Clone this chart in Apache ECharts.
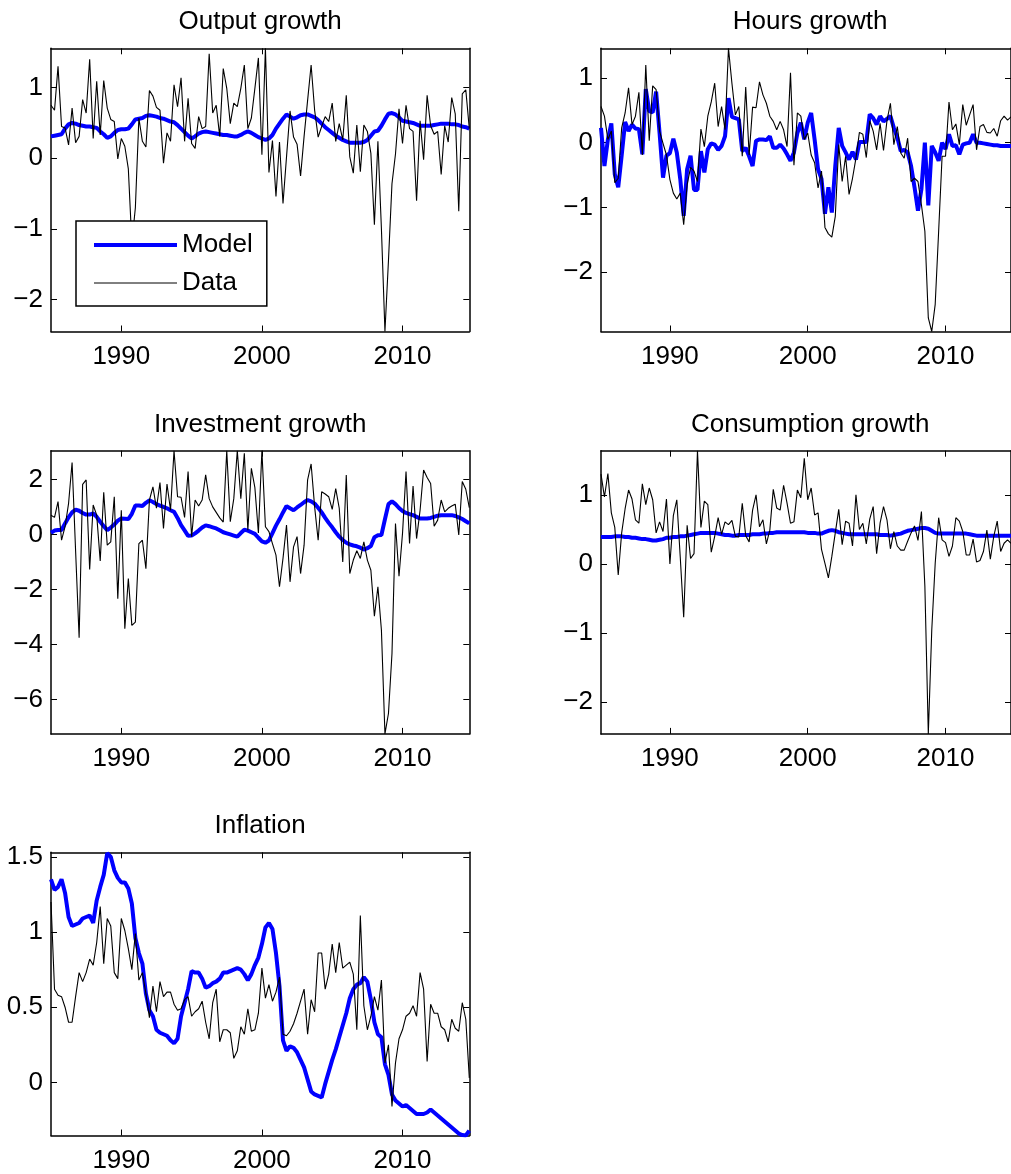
<!DOCTYPE html>
<html><head><meta charset="utf-8">
<script src="https://cdn.jsdelivr.net/npm/echarts@6/dist/echarts.min.js"></script>
<style>html,body{margin:0;padding:0;background:#fff}#c{width:1011px;height:1174px}</style>
</head><body><div id="c"></div>
<script>
const startYear = 1985;
const nQuarters = 120;
const xTicks = [1990, 2000, 2010];
const titles = ['Output growth', 'Hours growth', 'Investment growth', 'Consumption growth', 'Inflation'];
const seriesNames = ['Model', 'Data'];

const outputModel = [0.31,0.32,0.33,0.34,0.42,0.48,0.50,0.49,0.47,0.46,
0.45,0.45,0.44,0.43,0.38,0.34,0.29,0.31,0.36,0.40,
0.41,0.41,0.42,0.48,0.55,0.56,0.57,0.60,0.61,0.60,
0.59,0.57,0.56,0.54,0.52,0.51,0.47,0.42,0.37,0.32,
0.28,0.31,0.35,0.37,0.38,0.37,0.36,0.35,0.34,0.33,
0.33,0.32,0.31,0.31,0.33,0.36,0.38,0.36,0.33,0.30,
0.28,0.26,0.28,0.33,0.42,0.49,0.56,0.62,0.59,0.56,
0.58,0.61,0.62,0.62,0.60,0.58,0.54,0.49,0.44,0.40,
0.36,0.32,0.29,0.26,0.24,0.22,0.22,0.22,0.22,0.23,
0.26,0.32,0.38,0.39,0.46,0.55,0.63,0.64,0.62,0.58,
0.53,0.52,0.51,0.50,0.48,0.46,0.46,0.46,0.46,0.47,
0.48,0.49,0.49,0.49,0.48,0.48,0.47,0.45,0.44,0.42];
const outputData = [0.75,0.68,1.30,0.45,0.43,0.19,0.71,0.22,0.31,0.83,
0.64,1.40,0.28,1.09,0.33,1.10,0.71,0.55,0.52,-0.01,
0.28,0.17,-0.15,-1.20,-0.70,0.57,0.24,0.16,0.96,0.88,
0.72,0.68,-0.07,0.36,0.24,1.04,0.73,1.14,0.24,0.85,
0.21,0.14,0.59,0.42,0.45,1.48,0.64,0.75,0.31,1.27,
0.99,0.49,0.78,0.73,0.99,1.32,0.42,0.57,0.99,1.42,
0.05,1.556,-0.20,0.25,-0.54,0.23,-0.64,0.02,0.67,0.30,
0.20,-0.25,0.31,0.82,1.32,0.68,0.30,0.45,0.59,0.52,
0.78,0.24,0.49,0.26,0.89,0.02,-0.21,0.47,-0.19,0.47,
0.38,0.07,-0.94,0.24,-1.00,-2.45,-1.45,-0.36,0.06,0.70,
0.21,0.75,0.42,0.38,-0.60,0.53,-0.02,0.89,0.46,0.34,
0.38,-0.23,0.46,0.23,0.86,0.63,-0.75,0.91,0.97,0.42];

const hoursModel = [0.23,-0.36,0.05,0.30,-0.49,-0.69,-0.20,0.32,0.18,0.28,
0.22,0.21,-0.18,0.83,0.49,0.47,0.79,0.15,-0.54,-0.20,
-0.16,0.06,-0.15,-0.56,-1.13,-0.41,-0.20,-0.73,-0.73,-0.13,
-0.46,-0.10,-0.01,-0.03,-0.11,-0.05,0.10,0.69,0.40,0.38,
0.36,-0.13,-0.08,-0.21,-0.36,0.03,0.05,0.05,0.04,0.10,
-0.08,-0.08,-0.03,-0.09,-0.18,-0.28,-0.15,0.15,0.31,0.05,
0.31,0.46,0.05,-0.41,-0.56,-1.10,-0.69,-1.08,-0.36,0.23,
-0.05,-0.15,-0.26,-0.14,-0.26,0.01,0.01,0.01,0.44,0.38,
0.28,0.41,0.33,0.37,0.41,0.23,0.08,-0.13,-0.11,-0.15,
-0.36,-0.69,-1.05,-0.72,0.00,-0.97,-0.05,-0.15,-0.28,0.00,
-0.10,0.13,-0.05,-0.04,-0.18,-0.03,-0.01,0.00,0.13,0.00,
0.00,-0.01,-0.02,-0.03,-0.04,-0.04,-0.05,-0.05,-0.05,-0.05];
const hoursData = [0.56,0.41,0.05,0.18,-0.62,-0.55,0.23,0.46,0.85,0.28,
0.41,0.78,-0.19,1.20,0.03,0.88,0.82,0.18,-0.01,-0.19,
-0.57,-0.78,-0.87,-0.78,-1.27,-0.65,-0.38,-0.44,-0.60,0.21,
-0.06,0.41,0.63,0.92,0.25,0.56,0.20,1.46,0.92,0.43,
0.56,-0.21,0.86,-0.19,0.55,0.54,0.94,0.74,0.61,0.41,
0.33,0.20,0.33,0.20,-0.06,1.08,-0.35,0.46,0.41,0.05,
0.15,-0.19,-0.31,-0.70,-0.44,-1.31,-1.41,-1.46,-1.14,-0.03,
-0.60,-0.21,-0.80,-0.55,-0.24,0.16,0.13,-0.23,0.34,0.18,
-0.11,0.30,-0.12,0.34,0.61,-0.03,0.25,-0.16,-0.24,0.07,
-0.60,-0.55,-0.60,-0.96,-1.37,-2.71,-2.92,-2.50,-1.37,-0.21,
-0.21,0.63,0.20,0.29,-0.03,0.59,0.27,0.43,0.59,-0.11,
0.25,0.28,0.16,0.15,0.22,0.10,0.34,0.41,0.35,0.40];

const investmentModel = [0.06,0.14,0.16,0.16,0.40,0.62,0.80,0.90,0.86,0.78,
0.72,0.72,0.76,0.64,0.46,0.30,0.16,0.25,0.36,0.50,
0.58,0.57,0.56,0.75,1.05,1.05,1.03,1.15,1.24,1.18,
1.10,1.05,1.00,0.95,0.88,0.82,0.60,0.34,0.15,-0.05,
-0.04,0.04,0.14,0.25,0.33,0.30,0.26,0.22,0.15,0.08,
0.04,0.00,-0.04,-0.08,0.05,0.17,0.14,0.08,0.02,-0.12,
-0.25,-0.30,-0.22,0.05,0.32,0.55,0.80,1.03,0.95,0.88,
0.98,1.07,1.17,1.25,1.20,1.12,0.97,0.80,0.60,0.42,
0.26,0.08,-0.08,-0.20,-0.30,-0.36,-0.40,-0.43,-0.48,-0.55,
-0.50,-0.42,-0.10,-0.03,-0.02,0.55,1.10,1.20,1.10,0.96,
0.85,0.78,0.74,0.70,0.64,0.58,0.58,0.58,0.60,0.64,
0.68,0.70,0.70,0.70,0.70,0.67,0.62,0.56,0.48,0.40];
const investmentData = [0.70,0.62,1.19,-0.21,0.28,1.13,2.61,-0.60,-3.75,1.82,
1.98,-1.27,1.07,0.70,-0.96,1.53,-0.39,-0.27,1.37,-2.33,
0.88,-3.42,-1.60,-3.30,-3.18,-0.33,-0.21,-1.24,1.25,1.73,
0.95,1.88,0.22,1.83,0.88,3.04,1.37,1.35,0.62,2.28,
-0.08,1.25,1.03,1.25,2.16,1.30,1.00,0.80,0.60,0.45,
3.04,0.46,1.30,3.04,1.30,2.95,0.15,2.40,1.70,0.05,
3.04,0.28,0.10,-0.33,-0.75,-1.90,-0.87,0.34,-1.72,-0.45,
-0.08,-1.42,-0.39,1.98,2.56,1.00,-0.21,1.55,1.47,1.37,
0.91,1.66,0.95,-1.00,2.16,-1.42,-0.93,-0.59,-0.87,-0.27,
-0.93,-1.30,-2.97,-1.90,-3.48,-7.24,-6.50,-4.33,0.40,-1.52,
0.04,2.28,-0.33,1.76,-0.15,0.88,2.34,2.07,1.85,0.30,
0.52,1.25,0.82,0.95,1.03,1.10,-0.02,1.92,1.64,0.97];

const consumptionModel = [0.39,0.39,0.39,0.39,0.40,0.40,0.40,0.39,0.39,0.38,
0.38,0.37,0.36,0.36,0.35,0.34,0.34,0.35,0.36,0.38,
0.38,0.39,0.39,0.40,0.40,0.41,0.42,0.43,0.44,0.45,
0.45,0.45,0.45,0.45,0.44,0.43,0.42,0.42,0.41,0.41,
0.42,0.42,0.42,0.42,0.43,0.43,0.43,0.44,0.44,0.45,
0.45,0.46,0.46,0.46,0.46,0.46,0.46,0.46,0.46,0.46,
0.45,0.45,0.45,0.44,0.44,0.46,0.48,0.49,0.48,0.46,
0.45,0.44,0.43,0.43,0.43,0.43,0.43,0.43,0.43,0.43,
0.43,0.42,0.42,0.42,0.41,0.42,0.43,0.44,0.46,0.48,
0.49,0.50,0.51,0.52,0.52,0.51,0.48,0.45,0.44,0.44,
0.44,0.44,0.44,0.44,0.44,0.44,0.44,0.43,0.42,0.41,
0.41,0.41,0.41,0.41,0.41,0.41,0.41,0.41,0.41,0.41];
const consumptionData = [1.30,0.97,1.31,0.74,0.53,-0.16,0.45,0.80,1.07,0.94,
0.64,0.59,1.16,0.86,1.10,0.93,0.45,0.61,0.47,0.94,
0.00,0.70,0.93,0.10,-0.77,0.56,0.08,0.15,1.64,0.53,
0.91,0.86,0.17,0.40,0.67,0.43,0.61,0.57,0.63,0.40,
0.39,0.88,0.41,0.32,0.78,1.00,0.54,0.64,0.29,0.49,
1.08,0.81,0.78,1.14,0.88,0.59,0.61,1.07,0.96,1.53,
0.93,1.10,0.71,0.74,0.21,0.01,-0.20,0.11,0.45,0.79,
0.28,0.62,0.59,0.26,1.00,0.50,0.59,0.29,0.65,0.83,
0.15,0.59,0.83,0.64,0.22,0.47,0.26,0.20,0.20,0.33,
0.45,0.55,0.34,0.76,-0.32,-2.46,-0.96,0.01,0.67,0.35,
0.31,0.11,0.26,0.67,0.62,0.47,0.13,0.13,0.36,0.03,
0.05,0.18,0.49,0.07,0.40,0.62,0.18,0.30,0.35,0.30];

const inflationModel = [1.35,1.28,1.30,1.35,1.26,1.10,1.04,1.05,1.06,1.09,
1.10,1.11,1.06,1.21,1.30,1.38,1.525,1.50,1.41,1.36,
1.33,1.33,1.29,1.19,0.96,0.86,0.79,0.59,0.48,0.44,
0.35,0.33,0.32,0.31,0.28,0.26,0.29,0.44,0.53,0.62,
0.74,0.73,0.73,0.69,0.63,0.64,0.66,0.67,0.69,0.73,
0.73,0.74,0.75,0.76,0.75,0.72,0.68,0.72,0.78,0.83,
0.92,1.03,1.06,1.02,0.86,0.64,0.28,0.21,0.24,0.23,
0.20,0.15,0.10,0.02,-0.06,-0.08,-0.09,-0.10,-0.01,0.07,
0.15,0.22,0.30,0.38,0.46,0.56,0.62,0.65,0.66,0.70,
0.67,0.55,0.40,0.32,0.30,0.12,0.05,-0.08,-0.12,-0.14,
-0.16,-0.15,-0.17,-0.19,-0.21,-0.21,-0.21,-0.20,-0.18,-0.20,
-0.22,-0.24,-0.26,-0.28,-0.30,-0.32,-0.34,-0.35,-0.353,-0.32];
const inflationData = [1.20,0.62,0.58,0.57,0.50,0.40,0.40,0.57,0.73,0.67,
0.73,0.82,0.78,0.93,1.17,0.79,1.09,1.04,0.73,0.69,
1.09,1.01,0.89,0.75,0.99,0.68,0.73,0.59,0.43,0.64,
0.47,0.67,0.57,0.60,0.60,0.52,0.48,0.49,0.55,0.57,
0.44,0.47,0.49,0.54,0.40,0.29,0.53,0.62,0.27,0.35,
0.35,0.33,0.16,0.21,0.37,0.32,0.49,0.34,0.35,0.46,
0.76,0.56,0.65,0.54,0.60,0.70,0.32,0.31,0.34,0.39,
0.46,0.54,0.62,0.32,0.55,0.47,0.86,0.86,0.62,0.72,
0.92,0.73,0.93,0.76,0.78,0.80,0.72,0.35,1.11,0.51,
0.35,0.44,0.57,0.48,0.68,0.13,0.25,-0.16,0.13,0.29,
0.35,0.44,0.46,0.51,0.44,0.73,0.62,0.14,0.52,0.46,
0.46,0.37,0.35,0.27,0.42,0.36,0.34,0.53,0.42,0.03];

const yTicks = [[-2,-1,0,1],[-2,-1,0,1],[-6,-4,-2,0,2],[-2,-1,0,1],[0,0.5,1,1.5]];
const yRanges = [[-2.45,1.556],[-2.92,1.46],[-7.24,3.04],[-2.46,1.64],[-0.353,1.53]];

const quarters = Array.from({length: nQuarters}, (_, i) => startYear + i / 4);
const FONT = '"Liberation Sans", Arial, Helvetica, sans-serif';

const layout = [
  {left: 51, top: 48.3},
  {left: 601, top: 48.3},
  {left: 51, top: 450.7},
  {left: 601, top: 450.7},
  {left: 51, top: 852.3}
];
const GW = 418.3, GH = 283.2;
const modelSets = [outputModel, hoursModel, investmentModel, consumptionModel, inflationModel];
const dataSets = [outputData, hoursData, investmentData, consumptionData, inflationData];

const fmt = v => (v < 0 ? '\u2212' + String(Math.abs(v)) : String(v));
const lineCol = '#000';

const grid = [], xAxis = [], yAxis = [], series = [], title = [];
layout.forEach((L, k) => {
  grid.push({left: L.left, top: L.top, width: GW, height: GH, containLabel: false});
  title.push({text: titles[k], left: L.left + GW / 2, top: L.top - 39, textAlign: 'center', padding: 0,
    textStyle: {fontFamily: FONT, fontSize: 26, fontWeight: 'normal', color: '#000'}});
  const axLine = {show: true, onZero: false, lineStyle: {color: lineCol, width: 1.5}};
  xAxis.push({type: 'value', gridIndex: k, min: startYear, max: quarters[nQuarters - 1], position: 'bottom',
    axisLine: axLine, splitLine: {show: false},
    axisTick: {show: true, inside: true, length: 6, customValues: xTicks, lineStyle: {color: lineCol, width: 1}},
    axisLabel: {show: true, customValues: xTicks, margin: 12, color: '#000', fontSize: 26, fontFamily: FONT,
      formatter: v => String(v)}});
  xAxis.push({type: 'value', gridIndex: k, min: startYear, max: quarters[nQuarters - 1], position: 'top',
    axisLine: axLine, splitLine: {show: false},
    axisTick: {show: true, inside: true, length: 6, customValues: xTicks, lineStyle: {color: lineCol, width: 1}},
    axisLabel: {show: false}});
  yAxis.push({type: 'value', gridIndex: k, min: yRanges[k][0], max: yRanges[k][1], position: 'left',
    axisLine: axLine, splitLine: {show: false},
    axisTick: {show: true, inside: true, length: 6, customValues: yTicks[k], lineStyle: {color: lineCol, width: 1}},
    axisLabel: {show: true, customValues: yTicks[k], margin: 8, color: '#000', fontSize: 26, fontFamily: FONT, formatter: fmt}});
  yAxis.push({type: 'value', gridIndex: k, min: yRanges[k][0], max: yRanges[k][1], position: 'right',
    axisLine: axLine, splitLine: {show: false},
    axisTick: {show: true, inside: true, length: 6, customValues: yTicks[k], lineStyle: {color: lineCol, width: 1}},
    axisLabel: {show: false}});
  series.push({type: 'line', name: seriesNames[0], xAxisIndex: 2 * k, yAxisIndex: 2 * k,
    data: quarters.map((q, i) => [q, modelSets[k][i]]), symbol: 'none', clip: true,
    lineStyle: {color: '#0000ff', width: 4}, itemStyle: {color: '#0000ff'}, z: 2});
  series.push({type: 'line', name: seriesNames[1], xAxisIndex: 2 * k, yAxisIndex: 2 * k,
    data: quarters.map((q, i) => [q, dataSets[k][i]]), symbol: 'none', clip: true,
    lineStyle: {color: '#000', width: 1.1}, itemStyle: {color: '#000'}, z: 3});
});

const chart = echarts.init(document.getElementById('c'), null, {renderer: 'canvas'});
chart.setOption({
  animation: false,
  backgroundColor: '#fff',
  title, grid, xAxis, yAxis, series,
  legend: {
    data: [
      {name: seriesNames[0], lineStyle: {width: 4, color: '#0000ff'}},
      {name: seriesNames[1], lineStyle: {width: 1, color: '#000'}}
    ],
    orient: 'vertical', left: 76, top: 221, padding: [11, 14, 10, 16],
    itemGap: 12, itemWidth: 83, itemHeight: 25, borderColor: '#000', borderWidth: 1.5, backgroundColor: '#fff',
    selectedMode: false, itemStyle: {opacity: 0}, z: 10,
    textStyle: {fontFamily: FONT, fontSize: 26, color: '#000'}}
});
</script></body></html>
